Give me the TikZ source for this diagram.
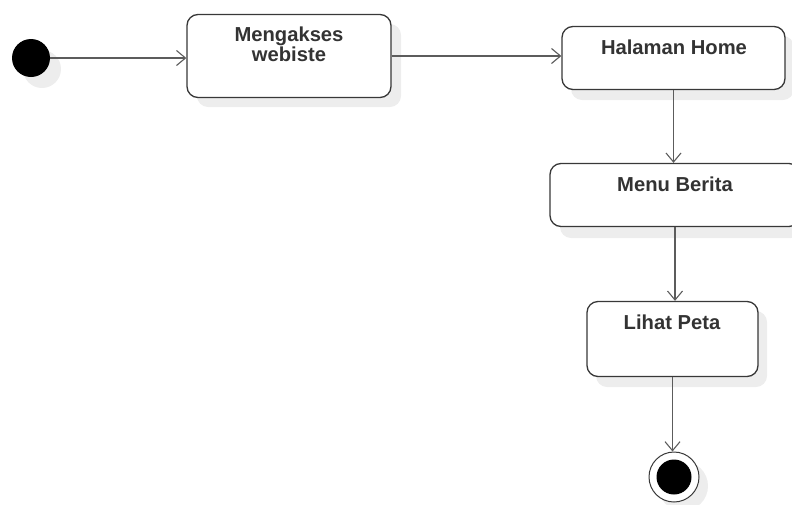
\documentclass[tikz,border=0pt]{standalone}
\usepackage{fontspec}
\setmainfont{Liberation Sans}
\usetikzlibrary{arrows.meta,calc}
\definecolor{shadowc}{gray}{0.93}
\definecolor{linec}{gray}{0.36}
\definecolor{edgec}{gray}{0.22}
\definecolor{textc}{gray}{0.2}
\tikzset{x=1pt,y=-1pt,
 act/.style={draw=edgec,line width=1.3pt,fill=white,rounded corners=11pt,inner sep=0pt},
 shad/.style={fill=shadowc,rounded corners=11pt},
 lbl/.style={font=\bfseries\fontsize{20.2}{20.5}\selectfont,text=textc,align=center,inner sep=0pt},
 flow/.style={draw=linec,line width=1.8pt,-{Straight Barb[length=9pt,width=15pt,line width=1.1pt]}},
}
\begin{document}
\begin{tikzpicture}
\useasboundingbox (0,0) rectangle (792,504);
\fill[shadowc] (42,69) circle (19);
\node[circle,fill=black,minimum size=38pt,inner sep=0pt] (start) at (31,58) {};
\fill[shad] (197,24) rectangle (401,107);
\node[act,minimum width=204pt,minimum height=83pt] (a) at (289,56) {};
\node[lbl] (at) at (289,44.5) {Mengakses\\webiste};
\fill[shad] (571,36) rectangle (794,100);
\node[act,minimum width=223pt,minimum height=63pt] (b) at (673.5,58) {};
\node[lbl] (bt) at (674,47) {Halaman Home};
\fill[shad] (560,175) rectangle (802,238);
\node[act,minimum width=250pt,minimum height=63pt] (c) at (675,195) {};
\node[lbl] (ct) at (675,184) {Menu Berita};
\fill[shad] (596,311) rectangle (767,387);
\node[act,minimum width=171pt,minimum height=75pt] (d) at (672.5,339) {};
\node[lbl] (dt) at (672,322) {Lihat Peta};
\fill[shadowc] (683,486) circle (25);
\node[circle,draw=edgec,line width=1pt,fill=white,minimum size=50pt,inner sep=0pt] (end) at (674,477) {};
\node[circle,fill=black,minimum size=35pt,inner sep=0pt] (endi) at (674,477) {};
\draw[flow] (start) -- (start -| a.west);
\draw[flow] (a.east) -- (a.east -| b.west);
\draw[flow] (b.south) -- (b.south |- c.north);
\draw[flow] (c.south) -- (c.south |- d.north);
\draw[flow] (d.south) -- (d.south |- end.north);
\end{tikzpicture}
\end{document}
